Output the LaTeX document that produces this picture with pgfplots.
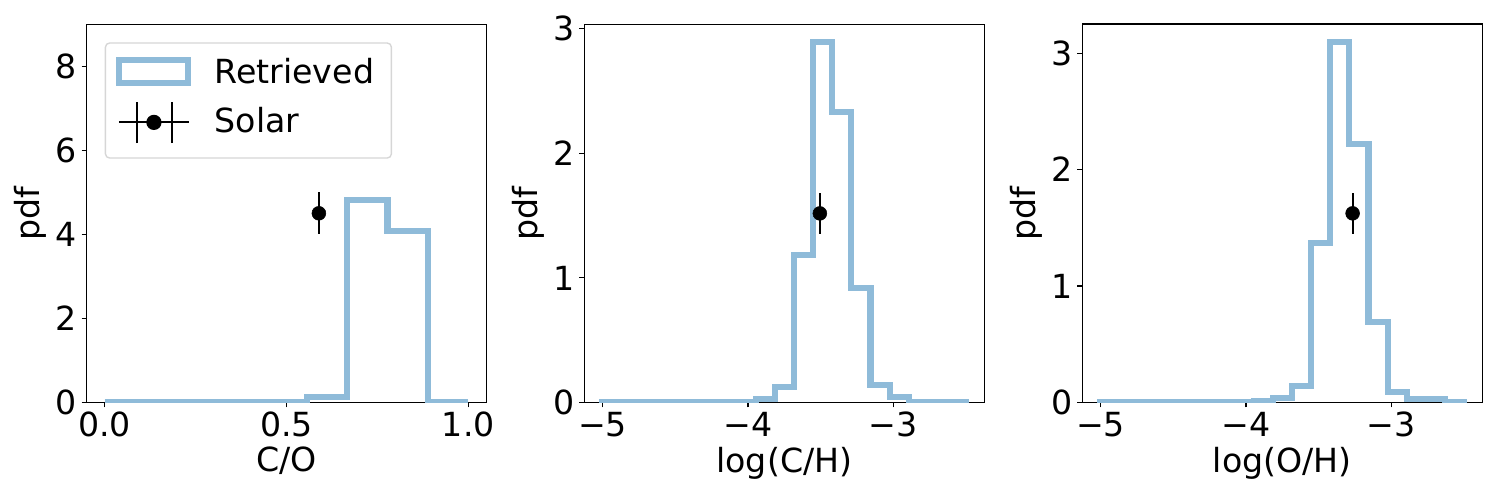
\documentclass[border=0pt]{standalone}
\usepackage{fontspec}
\setmainfont{DejaVu Sans}
\usepackage{pgfplots}
\pgfplotsset{compat=1.18}
\definecolor{histblue}{HTML}{8FBBD9}
\definecolor{legframe}{HTML}{D6D6D6}
\pgfplotsset{
  myaxis/.style={
    scale only axis, width=289.1pt, height=273.5pt, anchor=south west,
    axis line style={line width=0.8pt, black},
    tick align=outside, tick pos=left,
    major tick length=3.5pt,
    every tick/.style={line width=0.8pt, black},
    tick label style={font=\fontsize{24}{28.8}\selectfont},
    label style={font=\fontsize{24}{28.8}\selectfont},
    ylabel={pdf},
    ymin=0,
  },
  histstyle/.style={histblue, line width=4.5pt, const plot, line join=miter, mark=none},
  solarstyle/.style={black, only marks, mark=*, mark size=5pt,
    error bars/y dir=both, error bars/y explicit,
    error bars/error bar style={line width=1.5pt, black}, error bars/error mark=none},
}
\begin{document}
\begin{tikzpicture}
\path[use as bounding box] (0,0) rectangle (1084.05pt,361.35pt);
% Panel 1
\begin{axis}[myaxis, at={(62.5pt,70.46pt)},
  xmin=-0.05, xmax=1.05, ymax=9,
  xtick={0,0.5,1}, xticklabels={0.0,0.5,1.0},
  ytick={0,2,4,6,8}, yticklabels={0,2,4,6,8},
  xlabel={C/O},
  legend cell align=left,
  legend style={at={(0,1)}, anchor=north west, xshift=13.2pt, yshift=-13.2pt,
    draw=legframe, line width=1pt, rounded corners=3pt, fill=white,
    inner xsep=7.5pt, inner ysep=10pt, row sep=10.5pt, column sep=17pt,
    font=\fontsize{24}{28.8}\selectfont, nodes={inner sep=0pt}},
]
\addplot[histstyle, legend image code/.code={
    \draw[histblue, line width=4.5pt, sharp corners, line join=miter] (0pt,-8.3pt) rectangle (49.9pt,8.3pt);}]
  coordinates {(0,0) (0,0) (0.1111,0) (0.2222,0) (0.3333,0) (0.4444,0) (0.5556,0.13) (0.6667,4.82) (0.7778,4.07) (0.8889,0) (1.0,0)};
\addlegendentry{Retrieved\hspace*{5pt}}
\addplot[solarstyle, legend image code/.code={
    \draw[black, line width=1.5pt, sharp corners] (0pt,-1.3pt) -- (50.6pt,-1.3pt);
    \draw[black, line width=1.5pt, sharp corners] (13pt,-16.3pt) -- (13pt,13.7pt);
    \draw[black, line width=1.5pt, sharp corners] (38.3pt,-16.3pt) -- (38.3pt,13.7pt);
    \fill[black] (25.3pt,-1.3pt) circle (5pt);}]
  coordinates {(0.589,4.5) +- (0,0.5)};
\addlegendentry{Solar}
\end{axis}
% Panel 2
\begin{axis}[myaxis, at={(422.3pt,70.46pt)},
  xmin=-5.125, xmax=-2.375, ymax=3.038,
  xtick={-5,-4,-3}, xticklabels={−5,−4,−3},
  ytick={0,1,2,3}, yticklabels={0,1,2,3},
  xlabel={log(C/H)},
]
\addplot[histstyle] coordinates {
  (-5,0) (-5,0.003) (-4.8684,0.003) (-4.7368,0.003) (-4.6053,0.003) (-4.4737,0.003)
  (-4.3421,0.003) (-4.2105,0.003) (-4.0789,0.003) (-3.9474,0.028) (-3.8158,0.122)
  (-3.6842,1.181) (-3.5526,2.893) (-3.4211,2.334) (-3.2895,0.921) (-3.1579,0.140)
  (-3.0263,0.042) (-2.8947,0.005) (-2.7632,0.005) (-2.6316,0.005) (-2.5,0.005) (-2.5,0)};
\addplot[solarstyle] coordinates {(-3.506,1.518) +- (0,0.167)};
\end{axis}
% Panel 3
\begin{axis}[myaxis, at={(782.2pt,70.46pt)},
  xmin=-5.125, xmax=-2.375, ymax=3.249,
  xtick={-5,-4,-3}, xticklabels={−5,−4,−3},
  ytick={0,1,2,3}, yticklabels={0,1,2,3},
  xlabel={log(O/H)},
]
\addplot[histstyle] coordinates {
  (-5,0) (-5,0.002) (-4.8684,0.002) (-4.7368,0.002) (-4.6053,0.002) (-4.4737,0.002)
  (-4.3421,0.002) (-4.2105,0.002) (-4.0789,0.002) (-3.9474,0.01) (-3.8158,0.036)
  (-3.6842,0.142) (-3.5526,1.367) (-3.4211,3.094) (-3.2895,2.216) (-3.1579,0.691)
  (-3.0263,0.088) (-2.8947,0.027) (-2.7632,0.027) (-2.6316,0.005) (-2.5,0.005) (-2.5,0)};
\addplot[solarstyle] coordinates {(-3.267,1.624) +- (0,0.178)};
\end{axis}
\end{tikzpicture}
\end{document}
